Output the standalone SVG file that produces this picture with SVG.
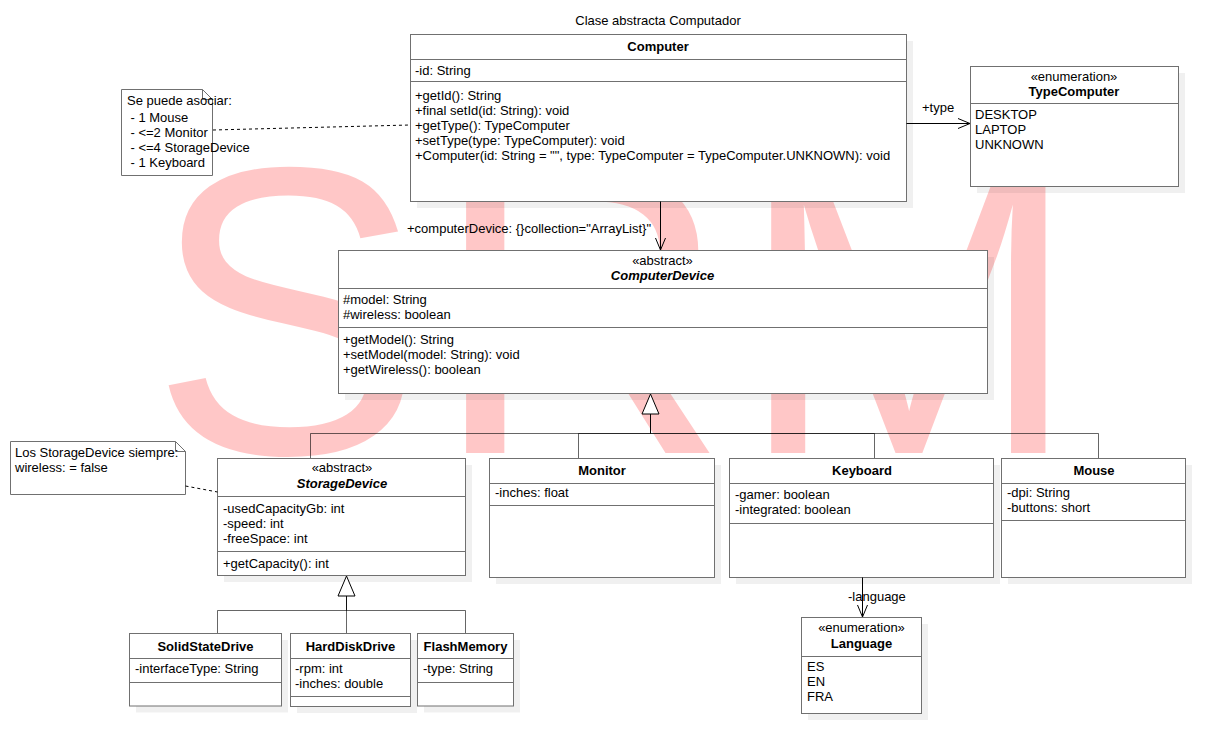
<svg xmlns="http://www.w3.org/2000/svg" width="1227" height="754" viewBox="0 0 1227 754">
<defs>
<style>
.box{fill:#fff;stroke:#707070;stroke-width:1}
.sh{fill:#000;fill-opacity:0.06}
.dv{stroke:#707070;stroke-width:1;fill:none}
.note{fill:#fff;stroke:#707070;stroke-width:1}
.t{font-family:"Liberation Sans",Arial,Helvetica,sans-serif;font-size:13px;fill:#000}
.b{font-weight:bold}
.c{text-anchor:middle}
.i{font-style:italic}
.gen{fill:none;stroke:#000;stroke-opacity:0.6;stroke-width:1}
.asc{fill:none;stroke:#000;stroke-width:1}
.dash{fill:none;stroke:#000;stroke-width:1;stroke-dasharray:3 3}
.tri{fill:#fff;stroke:#000;stroke-width:1}
</style>
<marker id="open" markerUnits="userSpaceOnUse" markerWidth="14" markerHeight="12" viewBox="0 0 14 12" refX="13" refY="6" orient="auto">
<path d="M1,1 L13,6 L1,11" fill="none" stroke="#000" stroke-width="1"/>
</marker>
</defs>
<rect width="1227" height="754" fill="#fff"/>
<text x="150" y="453" font-family="Liberation Sans, Arial, sans-serif" font-size="410" letter-spacing="9" fill="#ff0000" fill-opacity="0.22">SRM</text>

<text class="t c" x="658" y="24.5">Clase abstracta Computador</text>

<g id="computer">
<rect class="sh" x="417" y="41" width="496" height="167"/>
<rect class="box" x="410.5" y="34.5" width="496" height="167"/>
<path class="dv" d="M410.5,59.5H906.5M410.5,81.5H906.5"/>
<text class="t b c" x="658" y="51">Computer</text>
<text class="t" x="415" y="74.5">-id: String</text>
<text class="t" x="415" y="99.5">+getId(): String</text>
<text class="t" x="415" y="114.5">+final setId(id: String): void</text>
<text class="t" x="415" y="129.5">+getType(): TypeComputer</text>
<text class="t" x="415" y="144.5">+setType(type: TypeComputer): void</text>
<text class="t" x="415" y="159.5">+Computer(id: String = "", type: TypeComputer = TypeComputer.UNKNOWN): void</text>
</g>

<g id="typecomputer">
<rect class="sh" x="977" y="73" width="208" height="120"/>
<rect class="box" x="970.5" y="66.5" width="208" height="120"/>
<path class="dv" d="M970.5,103.5H1178.5"/>
<text class="t c" x="1074" y="81">«enumeration»</text>
<text class="t b c" x="1074" y="96">TypeComputer</text>
<text class="t" x="975" y="118.5">DESKTOP</text>
<text class="t" x="975" y="133.5">LAPTOP</text>
<text class="t" x="975" y="148.5">UNKNOWN</text>
</g>

<g id="note1">
<path class="note" d="M121.5,89.5H202.5L212.5,99.5V175.5H121.5Z"/>
<path class="dv" d="M202.5,89.5V99.5H212.5"/>
<text class="t" x="127" y="104.5">Se puede asociar:</text>
<text class="t" x="130.5" y="121.5">- 1 Mouse</text>
<text class="t" x="130.5" y="136.5">- &lt;=2 Monitor</text>
<text class="t" x="130.5" y="151.5">- &lt;=4 StorageDevice</text>
<text class="t" x="130.5" y="166.5">- 1 Keyboard</text>
</g>

<g id="computerdevice">
<rect class="sh" x="345" y="257" width="649" height="143"/>
<rect class="box" x="338.5" y="250.5" width="649" height="143"/>
<path class="dv" d="M338.5,288.5H987.5M338.5,327.5H987.5"/>
<text class="t c" x="662.5" y="265">«abstract»</text>
<text class="t b i c" x="662.5" y="280">ComputerDevice</text>
<text class="t" x="343" y="304">#model: String</text>
<text class="t" x="343" y="319">#wireless: boolean</text>
<text class="t" x="343" y="344">+getModel(): String</text>
<text class="t" x="343" y="359">+setModel(model: String): void</text>
<text class="t" x="343" y="374">+getWireless(): boolean</text>
</g>

<g id="note2">
<path class="note" d="M10.5,441.5H175.5L185.5,451.5V494.5H10.5Z"/>
<path class="dv" d="M175.5,441.5V451.5H185.5"/>
<text class="t" x="15" y="456.5">Los StorageDevice siempre:</text>
<text class="t" x="15" y="471.5">wireless: = false</text>
</g>

<g id="storagedevice">
<rect class="sh" x="224" y="465" width="248" height="117"/>
<rect class="box" x="217.5" y="458.5" width="248" height="117"/>
<path class="dv" d="M217.5,496.5H465.5M217.5,551.5H465.5"/>
<text class="t c" x="342" y="472">«abstract»</text>
<text class="t b i c" x="342" y="487.5">StorageDevice</text>
<text class="t" x="223" y="512.5">-usedCapacityGb: int</text>
<text class="t" x="223" y="527.5">-speed: int</text>
<text class="t" x="223" y="542.5">-freeSpace: int</text>
<text class="t" x="223" y="567.5">+getCapacity(): int</text>
</g>

<g id="monitor">
<rect class="sh" x="496" y="465" width="225" height="119"/>
<rect class="box" x="489.5" y="458.5" width="225" height="119"/>
<path class="dv" d="M489.5,483.5H714.5M489.5,505.5H714.5"/>
<text class="t b c" x="602" y="475">Monitor</text>
<text class="t" x="495" y="497">-inches: float</text>
</g>

<g id="keyboard">
<rect class="sh" x="736" y="465" width="264" height="119"/>
<rect class="box" x="729.5" y="458.5" width="264" height="119"/>
<path class="dv" d="M729.5,483.5H993.5M729.5,523.5H993.5"/>
<text class="t b c" x="862" y="475">Keyboard</text>
<text class="t" x="735" y="499">-gamer: boolean</text>
<text class="t" x="735" y="514">-integrated: boolean</text>
</g>

<g id="mouse">
<rect class="sh" x="1008" y="465" width="184" height="119"/>
<rect class="box" x="1001.5" y="458.5" width="184" height="119"/>
<path class="dv" d="M1001.5,483.5H1185.5M1001.5,520.5H1185.5"/>
<text class="t b c" x="1094" y="475">Mouse</text>
<text class="t" x="1007" y="497">-dpi: String</text>
<text class="t" x="1007" y="512">-buttons: short</text>
</g>

<g id="language">
<rect class="sh" x="808" y="624" width="120" height="96"/>
<rect class="box" x="801.5" y="617.5" width="120" height="96"/>
<path class="dv" d="M801.5,656.5H921.5"/>
<text class="t c" x="861.5" y="632">«enumeration»</text>
<text class="t b c" x="861.5" y="647.5">Language</text>
<text class="t" x="807" y="671">ES</text>
<text class="t" x="807" y="686">EN</text>
<text class="t" x="807" y="701">FRA</text>
</g>

<g id="solidstatedrive">
<rect class="sh" x="136" y="640" width="152" height="72.5"/>
<rect class="box" x="129.5" y="633.5" width="152" height="72.5"/>
<path class="dv" d="M129.5,658.5H281.5M129.5,682.5H281.5"/>
<text class="t b c" x="205.5" y="650.5">SolidStateDrive</text>
<text class="t" x="135" y="673">-interfaceType: String</text>
</g>

<g id="harddiskdrive">
<rect class="sh" x="297" y="640" width="120" height="73"/>
<rect class="box" x="290.5" y="633.5" width="120" height="73"/>
<path class="dv" d="M290.5,658.5H410.5M290.5,696.5H410.5"/>
<text class="t b c" x="350.5" y="650.5">HardDiskDrive</text>
<text class="t" x="295" y="673">-rpm: int</text>
<text class="t" x="295" y="688">-inches: double</text>
</g>

<g id="flashmemory">
<rect class="sh" x="424" y="640" width="96" height="72.5"/>
<rect class="box" x="417.5" y="633.5" width="96" height="72.5"/>
<path class="dv" d="M417.5,658.5H513.5M417.5,682.5H513.5"/>
<text class="t b c" x="465.5" y="650.5">FlashMemory</text>
<text class="t" x="423" y="673">-type: String</text>
</g>

<g id="connectors">
<path class="dash" d="M213,130L410,125"/>
<path class="dash" d="M185.5,486L217.5,492"/>
<path class="asc" d="M906.5,123.5H970" marker-end="url(#open)"/>
<text class="t" x="922" y="112">+type</text>
<path class="asc" d="M660.5,201.5V250" marker-end="url(#open)"/>
<text class="t" x="407" y="232.5">+computerDevice: {}collection="ArrayList}"</text>
<path class="asc" d="M862.5,577.5V617" marker-end="url(#open)"/>
<text class="t" x="848" y="600.5">-language</text>
<path class="gen" d="M310.5,458V433.5H650.5V414"/>
<path class="gen" d="M578.5,458V433.5H650.5V414"/>
<path class="gen" d="M874.5,458V433.5H650.5V414"/>
<path class="gen" d="M1098.5,458V433.5H650.5V414"/>
<polygon class="tri" points="650.5,394 642,414 659,414"/>
<path class="gen" d="M217.5,633V610.5H346.5V596"/>
<path class="gen" d="M346.5,633V596"/>
<path class="gen" d="M465.5,633V610.5H346.5V596"/>
<polygon class="tri" points="346.5,576 338,596 355,596"/>
</g>
</svg>
